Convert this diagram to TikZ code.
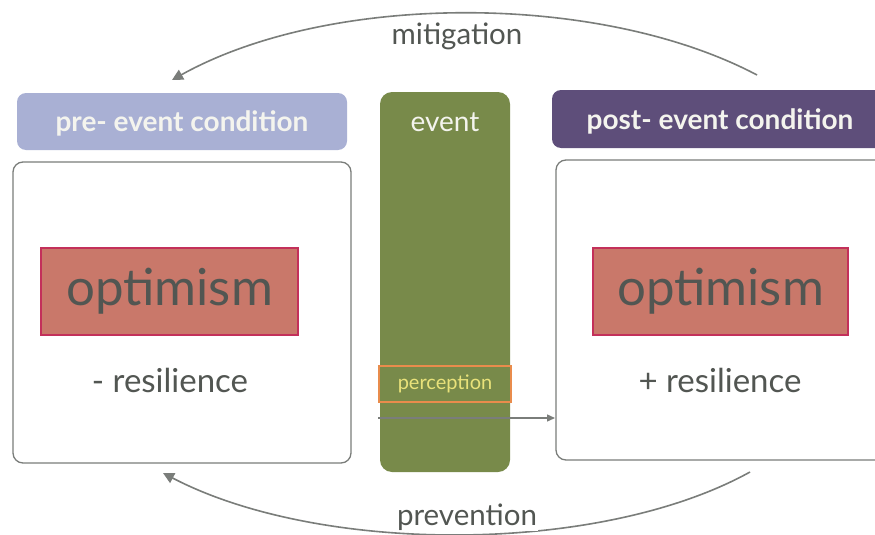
\documentclass[tikz,border=0pt]{standalone}
\usepackage{fontspec}
\setmainfont{Lato}
\usetikzlibrary{arrows.meta}
\definecolor{prehead}{HTML}{A9B0D4}
\definecolor{posthead}{HTML}{5E4E7A}
\definecolor{eventgreen}{HTML}{788A4A}
\definecolor{optfill}{HTML}{C9786A}
\definecolor{optedge}{HTML}{C3305A}
\definecolor{ink}{HTML}{525652}
\definecolor{framegray}{HTML}{7A7D7A}
\definecolor{perceptedge}{HTML}{E98C4C}
\definecolor{percepttext}{HTML}{E9E27A}
\definecolor{headtext}{HTML}{F4F4EE}
\tikzset{
  header/.style={rounded corners=9pt, inner sep=0pt},
  panel/.style={draw=framegray, line width=1.3pt, rounded corners=10pt, fill=white},
  optbox/.style={draw=optedge, line width=2.5pt, fill=optfill, text=ink,
    font=\fontsize{51}{54}\selectfont, inner sep=0pt},
  headlabel/.style={text=headtext, font=\fontsize{28}{30}\selectfont\bfseries},
  bodylabel/.style={text=ink, font=\fontsize{33}{36}\selectfont},
  arclabel/.style={text=ink, font=\fontsize{29.5}{32}\selectfont},
  flow/.style={draw=framegray, line width=1.6pt, -{Triangle[length=11pt,width=11pt]}},
}
\begin{document}
\begin{tikzpicture}[x=1pt,y=-1pt]
\useasboundingbox (0,0) rectangle (875,535);
\clip (0,0) rectangle (875,535);
\fill[white] (0,0) rectangle (875,535);

% column headers
\fill[prehead, header] (17,93) rectangle (347,150);
\node[headlabel] (prelabel) at (182,123) {pre- event condition};
\fill[posthead, header] (552,90) rectangle (895,148);
\node[headlabel] (postlabel) at (720,121) {post- event condition};

% event column
\fill[eventgreen, rounded corners=12pt] (380,92) rectangle (510,472);
\node[headlabel, font=\fontsize{28}{30}\selectfont] (eventlabel) at (445,122) {event};

% condition panels
\draw[panel] (13,162) rectangle (351,463);
\draw[panel] (556,160) rectangle (900,460);

% optimism boxes
\node[optbox, minimum width=257pt, minimum height=87pt] (optL) at (169.5,291.5) {optimism};
\node[optbox, minimum width=255pt, minimum height=87pt] (optR) at (720.5,291.5) {optimism};

\node[bodylabel] (resL) at (170,380) {- resilience};
\node[bodylabel] (resR) at (720,380) {+ resilience};

% perception band
\node[draw=perceptedge, line width=2pt, minimum width=132pt, minimum height=36pt,
      text=percepttext, font=\fontsize{20}{22}\selectfont] (percept) at (445,383.5) {perception};

% perception feeds the post-event panel
\coordinate (pstart) at (378,418);
\coordinate (pend) at (555,418);
\draw[draw=framegray, line width=1.4pt, -{Triangle[length=8pt,width=7pt]}] (pstart) -- (pend);

% feedback arcs
\coordinate (mitA) at (757,75);
\coordinate (mitB) at (172,80);
\draw[flow] (mitA) .. controls (600,-8) and (330,-8) .. (mitB);
\node[arclabel] (mitlabel) at (457,36) {mitigation};

\coordinate (preA) at (750,472);
\coordinate (preB) at (163,473);
\draw[flow] (preA) .. controls (600,555) and (320,555) .. (preB);
\node[arclabel, fill=white, inner sep=1pt] (prelbl) at (467,517) {prevention};
\end{tikzpicture}
\end{document}
